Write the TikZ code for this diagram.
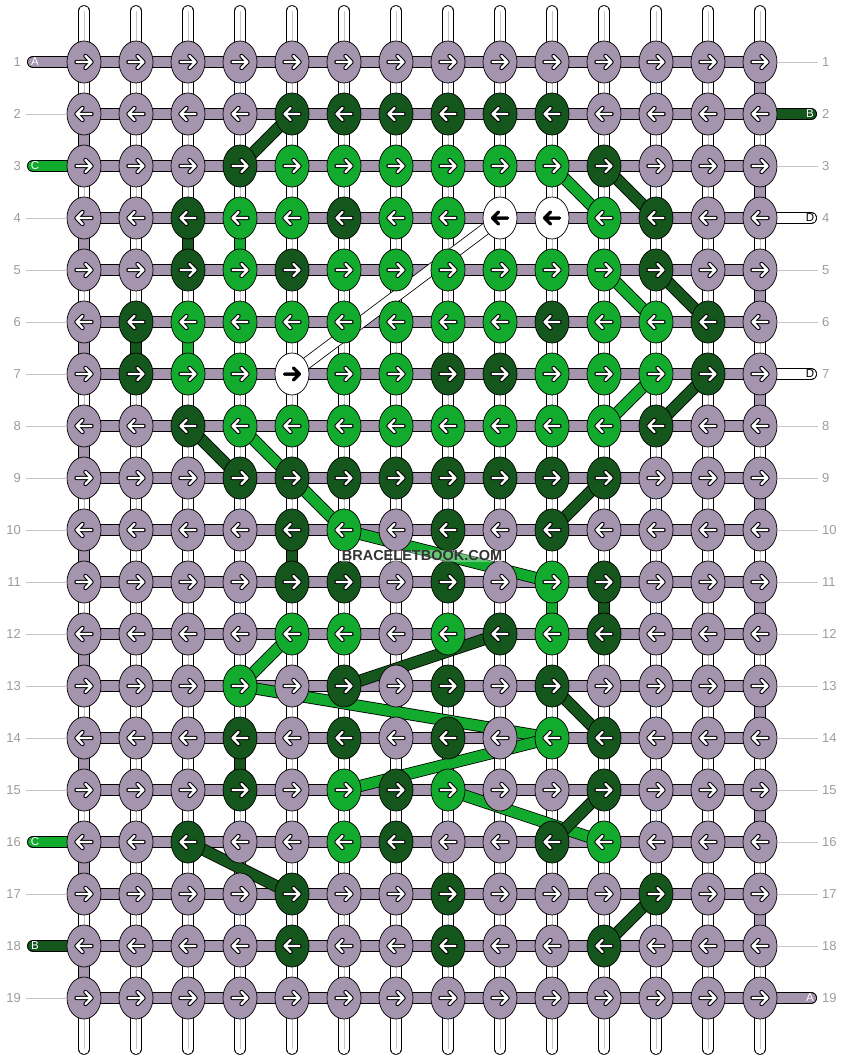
\documentclass[tikz,border=0pt]{standalone}
\usepackage{fontspec}
\setmainfont{Liberation Sans}
\usepackage{xcolor}
\usepackage{tikz}
\usetikzlibrary{shapes.geometric}

\definecolor{knotg}{HTML}{A494AD}
\definecolor{knotd}{HTML}{14561B}
\definecolor{knotb}{HTML}{12AB2D}
\definecolor{knotw}{HTML}{FFFFFF}
\definecolor{guide}{HTML}{C4C4C4}
\definecolor{numgray}{HTML}{9C9C9C}

\pgfdeclarelayer{warp}
\pgfdeclarelayer{bars}
\pgfsetlayers{warp,bars,main}

\tikzset{
  knot/.style={ellipse, draw=black, line width=0.7pt, minimum width=34pt, minimum height=42pt, inner sep=0pt, fill=#1},
  bar/.style={draw=black, line width=0.8pt, double=#1, double distance=10.5pt},
  warpline/.style={draw=black, line width=0.8pt, double=white, double distance=10pt, line cap=round},
  arrowout-g/.style={draw=black, line width=4.4pt, line cap=round, line join=round},
  arrowout-d/.style={arrowout-g},
  arrowout-b/.style={arrowout-g},
  arrowout-w/.style={draw=black, line width=3pt, line cap=round, line join=round},
  arrowin-g/.style={draw=white, line width=2.3pt, line cap=round, line join=round},
  arrowin-d/.style={arrowin-g},
  arrowin-b/.style={arrowin-g},
  arrowin-w/.style={arrowout-w},
  rownum/.style={text=numgray, font=\fontsize{13}{13}\selectfont, inner sep=0pt},
  pilltext/.style={font=\fontsize{11.5}{11.5}\selectfont, inner sep=0pt},
  brand/.style={font=\bfseries\fontsize{14.5}{14.5}\selectfont, text=black!80, fill=white, fill opacity=0.35, text opacity=1, inner sep=1pt}
}

% arrow inside a knot: node, direction (1 or -1), style
\newcommand{\knotarrow}[3]{%
  \draw[#3] (#1.center) ++(-7.5*#2,0) -- ++(15*#2,0) ++(-6*#2,-6) -- ++(6*#2,6) -- ++(-6*#2,6);}

\begin{document}
\begin{tikzpicture}[x=1pt, y=-1pt]
  \useasboundingbox (0,0) rectangle (844,1060);
  % origin at upper left corner, first knot at (84,62)
  \def\gap{52}

  % knots, row by row (g gray, d dark green, b green, w white)
  \foreach \r/\row in {
    1/{g,g,g,g,g,g,g,g,g,g,g,g,g,g},
    2/{g,g,g,g,d,d,d,d,d,d,g,g,g,g},
    3/{g,g,g,d,b,b,b,b,b,b,d,g,g,g},
    4/{g,g,d,b,b,d,b,b,w,w,b,d,g,g},
    5/{g,g,d,b,d,b,b,b,b,b,b,d,g,g},
    6/{g,d,b,b,b,b,b,b,b,d,b,b,d,g},
    7/{g,d,b,b,w,b,b,d,d,b,b,b,d,g},
    8/{g,g,d,b,b,b,b,b,b,b,b,d,g,g},
    9/{g,g,g,d,d,d,d,d,d,d,d,g,g,g},
    10/{g,g,g,g,d,b,g,d,g,d,g,g,g,g},
    11/{g,g,g,g,d,d,g,d,g,b,d,g,g,g},
    12/{g,g,g,g,b,b,g,b,d,b,d,g,g,g},
    13/{g,g,g,b,g,d,g,d,g,d,g,g,g,g},
    14/{g,g,g,d,g,d,g,d,g,b,d,g,g,g},
    15/{g,g,g,d,g,b,d,b,g,g,d,g,g,g},
    16/{g,g,d,g,g,b,d,g,g,d,b,g,g,g},
    17/{g,g,g,g,d,g,g,d,g,g,g,d,g,g},
    18/{g,g,g,g,d,g,g,d,g,g,d,g,g,g},
    19/{g,g,g,g,g,g,g,g,g,g,g,g,g,g}} {
    \pgfmathtruncatemacro{\dir}{1-2*mod(\r+1,2)}
    \foreach \k [count=\c] in \row {
      \node[knot=knot\k] (k-\r-\c) at ({84+\gap*(\c-1)},{62+\gap*(\r-1)}) {};
      \knotarrow{k-\r-\c}{\dir}{arrowout-\k}
      \knotarrow{k-\r-\c}{\dir}{arrowin-\k}
    }
  }

  % warp strands
  \begin{pgfonlayer}{warp}
    \foreach \c in {1,...,14} {
      \coordinate (wt-\c) at ({84+\gap*(\c-1)},11);
      \coordinate (wb-\c) at ({84+\gap*(\c-1)},1049);
      \draw[warpline] (wt-\c) -- (wb-\c);
      \draw[guide, line width=0.7pt] (wt-\c) -- (wb-\c);
    }
  \end{pgfonlayer}

  \begin{pgfonlayer}{bars}
    % rows and turns at the edges
    \foreach \r in {1,...,19}
      \draw[bar=knotg] (k-\r-1.center) -- (k-\r-14.center);
    \foreach \r [evaluate=\r as \s using int(\r+1)] in {1,3,...,17}
      \draw[bar=knotg] (k-\r-14.center) -- (k-\s-14.center);
    \foreach \r [evaluate=\r as \s using int(\r+1)] in {2,4,...,18}
      \draw[bar=knotg] (k-\r-1.center) -- (k-\s-1.center);
    % colour carried straight down
    \foreach \a/\b/\col in {4-3/5-3/knotd, 4-4/5-4/knotb, 6-2/7-2/knotd, 6-3/7-3/knotb,
        10-5/11-5/knotd, 11-10/12-10/knotb, 11-11/12-11/knotd, 14-4/15-4/knotd}
      \draw[bar=\col] (k-\a.center) -- (k-\b.center);
    % colour carried across
    \foreach \a/\b/\col in {2-5/3-4/knotd, 3-10/4-11/knotb, 3-11/4-12/knotd,
        5-11/6-12/knotb, 5-12/6-13/knotd, 7-12/8-11/knotb, 7-13/8-12/knotd,
        4-9/7-5/knotw, 8-3/9-4/knotd, 8-4/10-6/knotb, 10-6/11-10/knotb,
        10-10/9-11/knotd, 12-5/13-4/knotb, 13-6/12-9/knotd, 13-4/14-10/knotb,
        13-10/14-11/knotd, 15-6/14-10/knotb, 15-8/16-11/knotb, 16-10/15-11/knotd,
        16-3/17-5/knotd, 18-11/17-12/knotd}
      \draw[bar=\col] (k-\a.center) -- (k-\b.center);
    % strand ends
    \foreach \r/\col/\txt/\tc in {1/knotg/A/white, 3/knotb/C/white, 16/knotb/C/white, 18/knotd/B/white} {
      \coordinate (pl-\r) at (33,{62+\gap*(\r-1)});
      \draw[bar=\col, line cap=round] (pl-\r) -- (k-\r-1.center);
      \node[pilltext, text=\tc] (tl-\r) at (35,{62+\gap*(\r-1)}) {\txt};
    }
    \foreach \r/\col/\txt/\tc in {2/knotd/B/white, 4/knotw/D/black, 7/knotw/D/black, 19/knotg/A/white} {
      \coordinate (pr-\r) at (811,{62+\gap*(\r-1)});
      \draw[bar=\col, line cap=round] (k-\r-14.center) -- (pr-\r);
      \node[pilltext, text=\tc] (tr-\r) at (810,{62+\gap*(\r-1)}) {\txt};
    }
  \end{pgfonlayer}

  % row numbers
  \foreach \r in {1,...,19} {
    \node[rownum, anchor=east] (nl-\r) at (21,{62+\gap*(\r-1)}) {\r};
    \node[rownum, anchor=west] (nr-\r) at (822,{62+\gap*(\r-1)}) {\r};
  }
  \foreach \r in {2,4,5,...,15,17,19}
    \draw[guide, line width=0.8pt] ([xshift=5pt]nl-\r.east) -- (k-\r-1.west);
  \foreach \r in {1,3,5,6,8,9,...,18}
    \draw[guide, line width=0.8pt] (k-\r-14.east) -- ([xshift=-4pt]nr-\r.west);

  \node[brand] (mark) at (422,556) {BRACELETBOOK.COM};
\end{tikzpicture}
\end{document}
